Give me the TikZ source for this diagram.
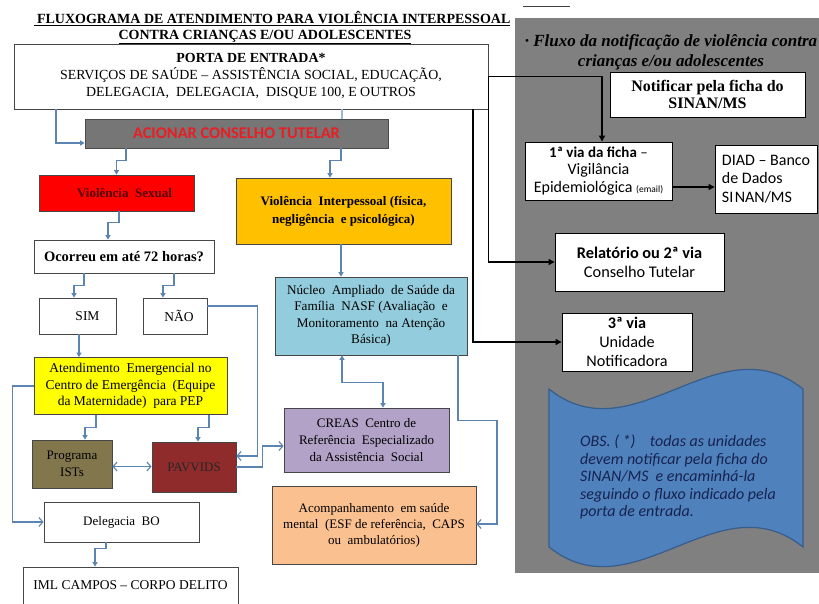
\documentclass[tikz,border=0pt]{standalone}
\usepackage{fontspec}
\setmainfont{Liberation Serif}
\newfontfamily\calib{Carlito}
\usetikzlibrary{arrows.meta,calc}
\definecolor{linkblue}{RGB}{91,132,177}
\definecolor{panelgray}{RGB}{128,128,128}
\definecolor{acigray}{RGB}{118,118,118}
\definecolor{acired}{RGB}{232,30,36}
\definecolor{vstext}{RGB}{80,0,0}
\definecolor{vired}{RGB}{255,0,0}
\definecolor{viorange}{RGB}{255,192,0}
\definecolor{nasfblue}{RGB}{147,205,221}
\definecolor{emyellow}{RGB}{255,255,0}
\definecolor{olive}{RGB}{130,118,76}
\definecolor{pavred}{RGB}{143,43,43}
\definecolor{lavender}{RGB}{179,162,199}
\definecolor{peach}{RGB}{250,192,144}
\definecolor{waveblue}{RGB}{79,129,189}
\definecolor{waveedge}{RGB}{56,93,138}
\definecolor{wavetext}{RGB}{23,35,80}
\definecolor{boxline}{RGB}{70,70,70}
\tikzset{
  box/.style={draw=boxline, line width=0.8pt, inner sep=0pt, align=center, font=\fontsize{13}{16.5}\selectfont},
  wbox/.style={box, fill=white},
  pbox/.style={draw=black, line width=0.9pt, fill=white, inner sep=0pt, align=center},
  conn/.style={draw=linkblue, line width=1.1pt},
  ftip/.style={-{Triangle[width=5pt,length=4.5pt]}},
  otip/.style={-{Straight Barb[width=9pt,length=4pt]}},
  blk/.style={draw=black, line width=1.3pt, -{Triangle[width=6pt,length=6pt]}}
}
\begin{document}
\begin{tikzpicture}[x=1pt,y=-1pt]
\useasboundingbox (0,0) rectangle (819,603);
\fill[white] (0,0) rectangle (819,603);
\fill[panelgray] (515,18) rectangle (819,573);
\draw[line width=1pt, black!75] (523,6) -- (570,6);

% titles
\node[font=\fontsize{14}{16}\selectfont\bfseries, inner sep=0pt] (t1) at (272,18.5) {\underline{\ FLUXOGRAMA DE ATENDIMENTO PARA VIOLÊNCIA INTERPESSOAL}};
\node[font=\fontsize{14}{16}\selectfont\bfseries, inner sep=0pt] (t2) at (265,37) {\underline{CONTRA CRIANÇAS E/OU ADOLESCENTES}};
\node[font=\fontsize{17}{20}\selectfont\bfseries\itshape, align=center, inner sep=0pt] (pt) at (671,52) {· Fluxo da notificação de violência contra\\crianças e/ou adolescentes};

% left column boxes
\node[wbox, minimum width=474, minimum height=65, font=\fontsize{13.9}{17}\selectfont] (porta) at (251,76.5)
  {\textbf{PORTA DE ENTRADA*}\\SERVIÇOS DE SAÚDE – ASSISTÊNCIA SOCIAL, EDUCAÇÃO,\\DELEGACIA,\ \ DELEGACIA,\ \ DISQUE 100, E OUTROS};
\node[box, fill=acigray, draw=black!70, minimum width=303, minimum height=29, font=\calib\bfseries\fontsize{16.4}{18}\selectfont, text=acired] (acionar) at (236.5,133.5) {ACIONAR CONSELHO TUTELAR};
\node[box, fill=vired, minimum width=155, minimum height=36, font=\bfseries\fontsize{13}{15}\selectfont, text=vstext] (vs) at (116.5,193) {\hspace*{16pt}Violência\ \ Sexual};
\node[wbox, minimum width=180, minimum height=33, font=\bfseries\fontsize{14.5}{16}\selectfont] (ocorreu) at (124,256.5) {Ocorreu em até 72 horas?};
\node[wbox, minimum width=77, minimum height=36, font=\fontsize{13.5}{15}\selectfont] (sim) at (77.5,316) {\hspace*{20pt}SIM};
\node[wbox, minimum width=64, minimum height=36, font=\fontsize{13.5}{15}\selectfont] (nao) at (175,316) {\hspace*{8pt}NÃO};
\node[box, fill=emyellow, minimum width=193, minimum height=57, font=\fontsize{13.5}{16.5}\selectfont] (atend) at (130.5,386)
  {Atendimento\ \ Emergencial\ no\\Centro de Emergência\ \ (Equipe\\da Maternidade)\ \ para PEP};
\node[box, fill=olive, minimum width=80, minimum height=48, font=\fontsize{13}{17}\selectfont] (ists) at (72,464) {Programa\\ISTs};
\node[box, fill=pavred, minimum width=84, minimum height=50, font=\fontsize{13}{15}\selectfont, text=black!85] (pav) at (194,467) {\raisebox{-6pt}{PAVVIDS}};
\node[wbox, minimum width=155, minimum height=40] (deleg) at (121.5,522) {Delegacia\ \ BO};
\node[wbox, minimum width=215, minimum height=39, font=\fontsize{13.5}{15}\selectfont] (iml) at (130.5,586.5) {\raisebox{3pt}{IML CAMPOS – CORPO DELITO}};

% middle column boxes
\node[box, fill=viorange, minimum width=215, minimum height=66, font=\bfseries\fontsize{13}{18}\selectfont] (vi) at (343.5,211) {Violência\ \ Interpessoal (física,\\negligência\ \ e psicológica)};
\node[box, fill=nasfblue, minimum width=192, minimum height=78, font=\fontsize{13.2}{16.5}\selectfont] (nasf) at (371,316)
  {Núcleo\ \ Ampliado\ \ de Saúde da\\Família\ \ NASF (Avaliação\ \ e\\Monitoramento\ \ na Atenção\\Básica)};
\node[box, fill=lavender, minimum width=165, minimum height=64, font=\fontsize{13}{17}\selectfont] (creas) at (366.5,440)
  {CREAS\ \ Centro de\\Referência\ \ Especializado\\da Assistência\ \ Social};
\node[box, fill=peach, minimum width=204, minimum height=78, font=\fontsize{13}{16}\selectfont] (acomp) at (374,525)
  {Acompanhamento\ \ em saúde\\mental\ \ (ESF de referência,\ \ CAPS\\ou\ \ ambulatórios)};

% right panel boxes
\node[pbox, minimum width=195, minimum height=45, font=\bfseries\fontsize{16}{17}\selectfont] (notif) at (707.5,94.5) {Notificar pela ficha do\\SINAN/MS};
\node[pbox, minimum width=147, minimum height=58, font=\calib\fontsize{16}{17.5}\selectfont] (via1) at (598.5,171)
  {{\fontsize{15}{17.5}\selectfont\textbf{1ª via da ficha} –}\\Vigilância\\Epidemiológica {\fontsize{9.5}{10}\selectfont(email)}};
\node[pbox, minimum width=102, minimum height=68, font=\calib\fontsize{16}{18.5}\selectfont, align=left] (diad) at (766,179) {DIAD – Banco\\de Dados\\SI\kern1.5pt NAN/MS};
\node[pbox, minimum width=169, minimum height=58, font=\calib\fontsize{16.3}{19}\selectfont] (relat) at (639.5,262) {\textbf{Relatório ou 2ª via}\\Conselho Tutelar};
\node[pbox, minimum width=130, minimum height=58, font=\calib\fontsize{16.2}{19}\selectfont] (via3) at (627,342) {\textbf{3ª via}\\Unidade\\Notificadora};

% wave banner
\draw[fill=waveblue, draw=waveedge, line width=1.2pt] (549,389) .. controls (634,457) and (718,321) .. (803,389) -- (803,547) .. controls (718,479) and (634,615) .. (549,547) -- cycle;
\node[font=\calib\itshape\fontsize{16}{17.5}\selectfont, text=wavetext, align=left, anchor=west, inner sep=0pt] (obs) at (580,477)
  {OBS. ( *)\ \ \ \ todas as unidades\\devem notificar pela ficha do\\SINAN/MS\ \ e encaminhá-la\\seguindo o fluxo indicado pela\\porta de entrada.};

% blue connectors
\draw[conn, ftip] ([xshift=-195pt]porta.south) |- ([yshift=-9.5pt]acionar.west);
\draw[conn, draw=linkblue!60] ([xshift=91pt]porta.south) -- ([xshift=105.5pt]acionar.north);
\draw[conn, ftip] ([xshift=-110.5pt]acionar.south) -- ++(0,12) -| (vs.north);
\draw[conn, ftip] ([xshift=104.5pt]acionar.south) -- ++(0,12) -| ([xshift=-13.5pt]vi.north);
\draw[conn, ftip] ([xshift=2.5pt]vs.south) -- ++(0,11) -| ([xshift=-16pt]ocorreu.north);
\draw[conn, ftip] ([xshift=-40pt]ocorreu.south) -- ++(0,12) -| ([xshift=-3.5pt]sim.north);
\draw[conn, ftip] ([xshift=50pt]ocorreu.south) -- ++(0,12) -| ([xshift=-12pt]nao.north);
\draw[conn, otip] ([yshift=10pt]nao.east) -- ++(50,0) |- ([yshift=11pt]pav.east);
\draw[conn, ftip] ([xshift=1.5pt]sim.south) -- ([xshift=-51.5pt]atend.north);
\draw[conn, ftip] ([xshift=-34.5pt]atend.south) -- ++(0,13) -| ([xshift=13pt]ists.north);
\draw[conn, ftip] ([xshift=78.5pt]atend.south) -- ++(0,13) -| ([xshift=4pt]pav.north);
\draw[conn, otip] (atend.west) -- ++(-21,0) |- (deleg.west);
\draw[conn, {Straight Barb[width=9pt,length=4pt]}-{Straight Barb[width=9pt,length=4pt]}] ([yshift=-2.5pt]ists.east) -- ([yshift=0.5pt]pav.west);
\draw[conn, ftip] ([xshift=-15.5pt]deleg.south) -- ++(0,6) -| ([xshift=-35.5pt]iml.north);
\draw[conn, ftip] ([xshift=-2.5pt]vi.south) -- ([xshift=-30pt]nasf.north);
\draw[conn, {Triangle[width=5pt,length=4.5pt]}-{Triangle[width=5pt,length=4.5pt]}] ([xshift=-29pt]nasf.south) -- ++(0,27) -| ([xshift=16.5pt]creas.north);
\draw[conn, otip] ([xshift=87pt]nasf.south) |- ++(39,65) |- ([yshift=1pt]acomp.east);
\draw[conn, otip] (pav.east) -- ++(26,0) |- ([yshift=-6pt]creas.west);

% black connectors
\draw[blk] (porta.east) -| ([xshift=3.5pt]via1.north);
\draw[blk] (porta.east) |- (relat.west);
\draw[blk] ([xshift=222pt]porta.south) |- (via3.west);
\draw[blk] ([yshift=-16pt]via1.east) -- ([yshift=-8pt]diad.west);
\end{tikzpicture}
\end{document}
